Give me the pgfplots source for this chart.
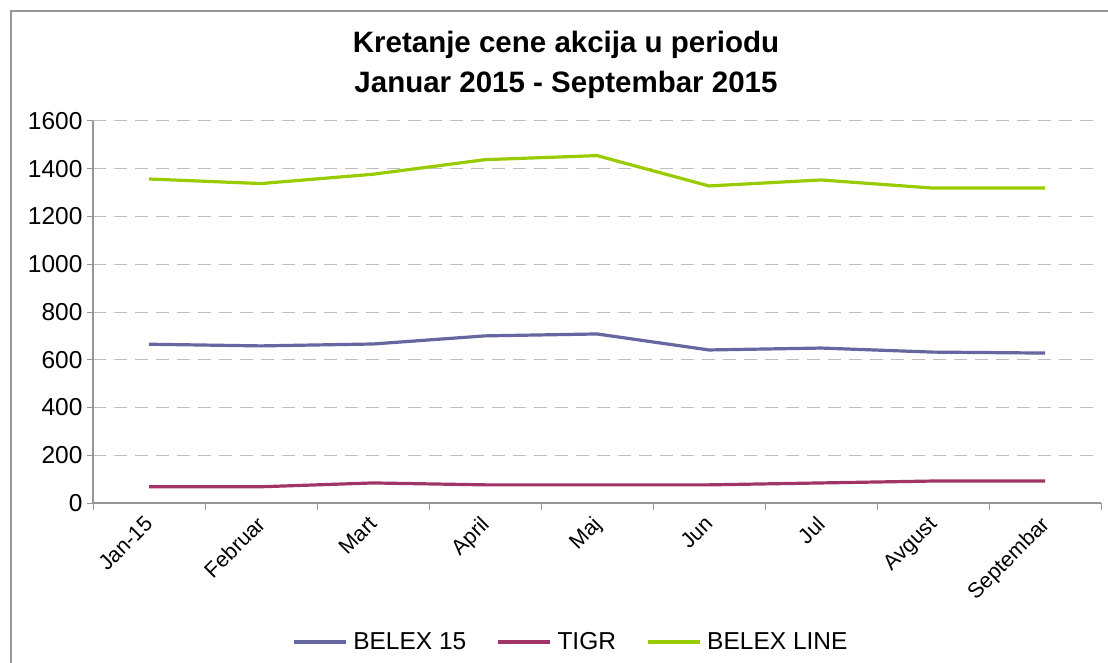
\documentclass[border=0pt]{standalone}
\usepackage{pgfplots}
\pgfplotsset{compat=1.18}
\usepackage{fontspec}
\setmainfont{Liberation Sans}
\definecolor{cBelex}{RGB}{102,102,160}
\definecolor{cTigr}{RGB}{160,52,102}
\definecolor{cLine}{RGB}{153,204,0}
\definecolor{cAxis}{RGB}{150,150,150}
\definecolor{cGrid}{RGB}{190,190,190}
\begin{document}
\begin{tikzpicture}[x=1pt,y=1pt]
\path[use as bounding box] (0,0) rectangle (1108,662);
\draw[cAxis, line width=1.2pt] (11,-5) -- (11,651) -- (1115,651);
\node[font=\bfseries\fontsize{29.5}{40}\selectfont, align=center] at (566,597) {Kretanje cene akcija u periodu\\Januar 2015 - Septembar 2015};
\begin{axis}[
  at={(93pt,159pt)}, anchor=south west,
  scale only axis, width=1008pt, height=382pt,
  xmin=-0.5, xmax=8.5, ymin=0, ymax=1600,
  xtick={0,...,8},
  xticklabels={Jan-15,Februar,Mart,April,Maj,Jun,Jul,Avgust,Septembar},
  minor xtick={-0.5,0.5,...,8.5},
  ytick={0,200,...,1600},
  major x tick style={draw=none},
  tick align=outside,
  major tick length=6pt, minor tick length=7pt,
  tick style={cAxis, line width=1pt},
  axis x line*=bottom, axis y line*=left,
  axis line style={cAxis, line width=1.2pt, -},
  ymajorgrids,
  major grid style={cGrid, line width=1pt, dash pattern=on 13pt off 8pt},
  /pgf/number format/1000 sep={},
  /pgf/number format/assume math mode=true,
  yticklabel style={font=\fontsize{24.5}{28}\selectfont, xshift=-1pt},
  xticklabel style={font=\fontsize{21.5}{25}\selectfont, rotate=45, anchor=north east, inner sep=1pt, xshift=-7pt, yshift=1pt},
  legend style={at={(0.474,-0.364)}, anchor=center, draw=none, fill=none,
    legend columns=3, font=\fontsize{24.5}{28}\selectfont,
    /tikz/every odd column/.append style={column sep=4pt},
    /tikz/every even column/.append style={column sep=28pt},
    inner sep=0pt},
  legend image code/.code={\draw[#1] (0pt,0pt) -- (52pt,0pt);},
  every axis plot/.append style={line width=3.2pt, line join=round},
]
\addplot[color=cBelex] coordinates {(0,665) (1,658) (2,666) (3,700) (4,708) (5,641) (6,649) (7,632) (8,628)};
\addplot[color=cTigr] coordinates {(0,68) (1,68) (2,84) (3,76) (4,76) (5,76) (6,84) (7,92) (8,92)};
\addplot[color=cLine] coordinates {(0,1357) (1,1338) (2,1377) (3,1438) (4,1455) (5,1328) (6,1353) (7,1319) (8,1319)};
\legend{BELEX 15, TIGR, BELEX LINE}
\end{axis}
\end{tikzpicture}
\end{document}
